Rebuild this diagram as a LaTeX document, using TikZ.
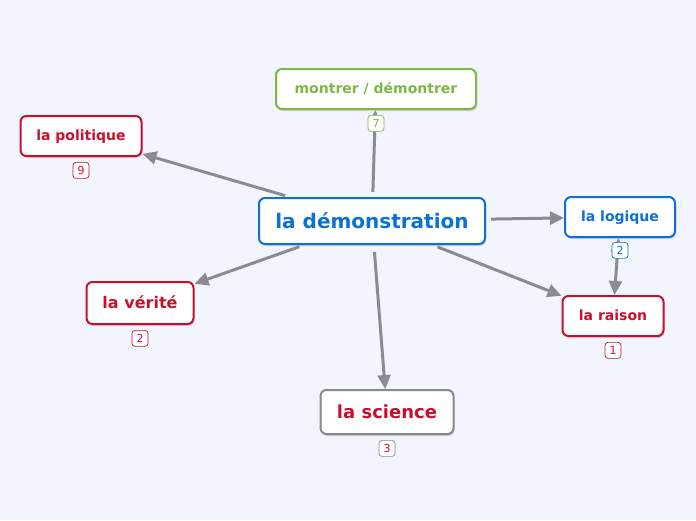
\documentclass[tikz,border=0pt]{standalone}
\usepackage{fontspec}
\setmainfont{DejaVu Sans}
\usetikzlibrary{arrows.meta,positioning,shadows}
\definecolor{bgblue}{RGB}{242,245,253}
\definecolor{topicblue}{RGB}{12,112,214}
\definecolor{topicgreen}{RGB}{126,184,66}
\definecolor{topicred}{RGB}{200,16,46}
\definecolor{linkgray}{RGB}{138,140,148}
\definecolor{boxgray}{RGB}{135,136,142}
\tikzset{
	topic/.style={draw, fill=white, rounded corners=6pt, line width=2pt,
		drop shadow={opacity=0.3, shadow xshift=1pt, shadow yshift=-2pt}},
	topicfont/.style={font=\bfseries\fontsize{#1}{#1}\selectfont,
		text height=\dimexpr #1pt*9/10\relax, text depth=\dimexpr #1pt*2/10\relax},
	badge/.style={draw, fill=white, rounded corners=3pt, line width=0.7pt, inner sep=0pt,
		minimum width=16pt, minimum height=16pt, font=\fontsize{11}{11}\selectfont},
	link/.style={linkgray, line width=3pt, -{Triangle[length=14pt,width=13pt]}, shorten <=5pt},
}
\begin{document}
\begin{tikzpicture}[x=1pt,y=-1pt]
	\fill[bgblue] (0,0) rectangle (696,520);
	\useasboundingbox (0,0) rectangle (696,520);
	
	% topics
	\node[topic, draw=topicblue, text=topicblue, minimum width=226pt, minimum height=46pt,
		topicfont=20] (demo) at (372,221) {la démonstration};
	\node[topic, draw=topicgreen, text=topicgreen, minimum width=200pt, minimum height=40pt,
		topicfont=14] (montrer) at (376,89) {montrer / démontrer};
	\node[topic, draw=topicred, text=topicred, minimum width=121pt, minimum height=40pt,
		topicfont=14] (politique) at (81,136) {la politique};
	\node[topic, draw=topicred, text=topicred, minimum width=107pt, minimum height=42pt,
		topicfont=16] (verite) at (140,303) {la vérité};
	\node[topic, draw=boxgray, text=topicred, minimum width=133pt, minimum height=44pt,
		topicfont=18] (science) at (387,412) {la science};
	\node[topic, draw=topicblue, text=topicblue, minimum width=110pt, minimum height=40pt,
		topicfont=14] (logique) at (620,217) {la logique};
	\node[topic, draw=topicred, text=topicred, minimum width=101pt, minimum height=40pt,
		topicfont=14] (raison) at (613,316) {la raison};
	
	% links
	\draw[link] (demo) -- (montrer);
	\draw[link] (demo) -- (politique);
	\draw[link] (demo) -- (verite);
	\draw[link, shorten <=7pt] (demo) -- (science);
	\draw[link] (demo) -- (logique);
	\draw[link] (demo) -- (raison);
	\draw[link, {Triangle[length=14pt,width=13pt]}-{Triangle[length=14pt,width=13pt]}, shorten <=0pt] (logique) -- (raison);
	
	% badges
	\node[badge, draw=topicgreen, text=topicgreen, below=5pt of montrer] (n7) {7};
	\node[badge, draw=topicred, text=topicred, below=5pt of politique] (n9) {9};
	\node[badge, draw=topicred, text=topicred, below=5pt of verite] (n2v) {2};
	\node[badge, draw=boxgray, text=topicred, below=5pt of science] (n3) {3};
	\node[badge, draw=topicblue, text=topicblue, below=4pt of logique] (n2l) {2};
	\node[badge, draw=topicred, text=topicred, below=5pt of raison] (n1) {1};
\end{tikzpicture}
\end{document}
